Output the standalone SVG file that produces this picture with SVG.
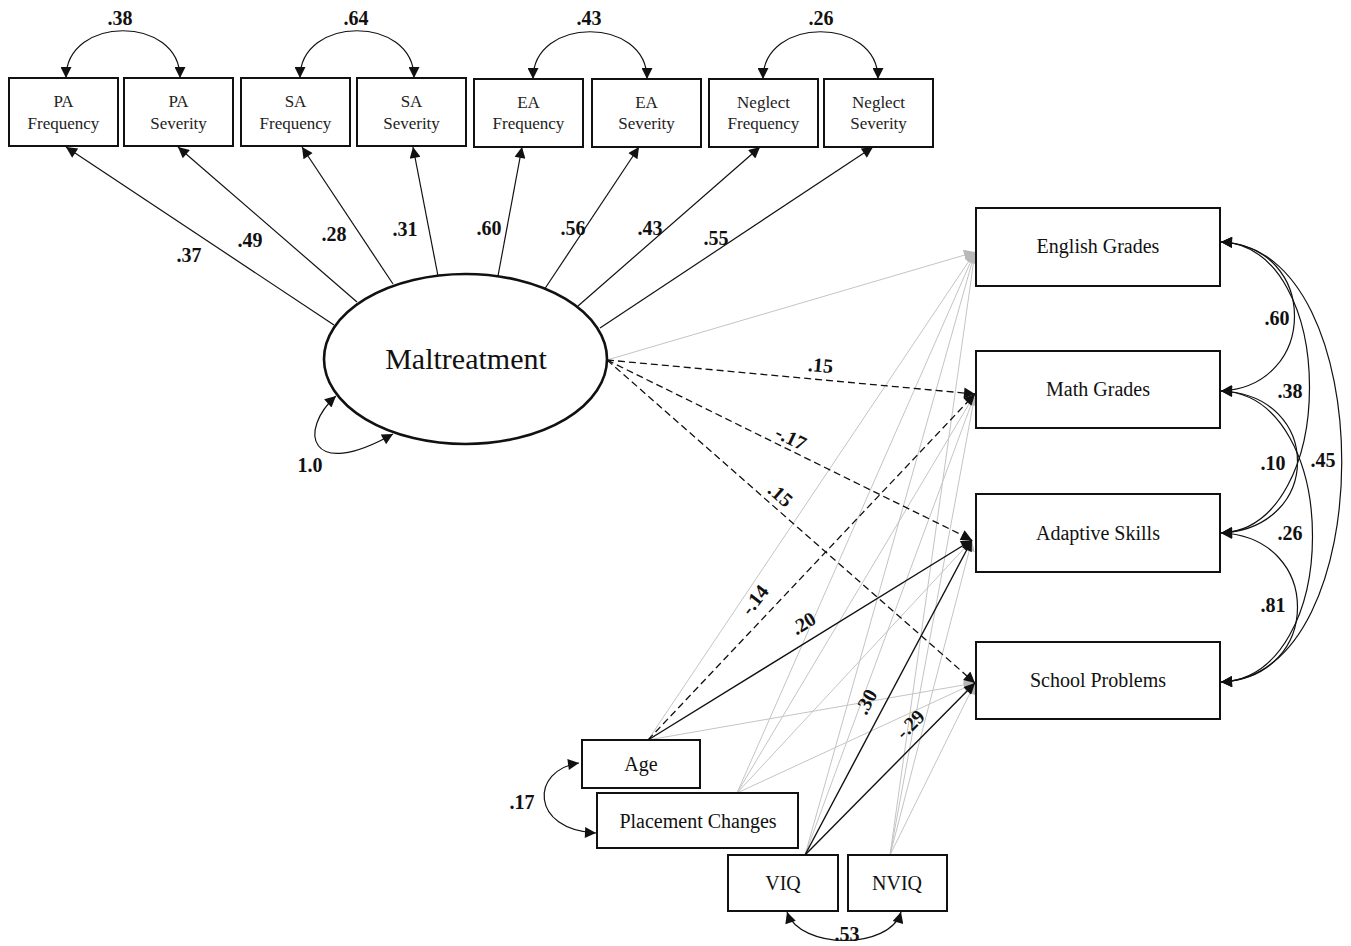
<svg xmlns="http://www.w3.org/2000/svg" width="1351" height="946" viewBox="0 0 1351 946">
<style>
.box{fill:#fff;stroke:#111;stroke-width:2}
.t16{font-family:"Liberation Serif",serif;font-size:17px;fill:#222;text-anchor:middle}
.t20{font-family:"Liberation Serif",serif;font-size:20px;fill:#111;text-anchor:middle}
.lab{font-family:"Liberation Serif",serif;font-size:20px;font-weight:bold;fill:#111;text-anchor:middle}
.ln{fill:none;stroke:#111;stroke-width:1.2}
.blk{fill:none;stroke:#111;stroke-width:1.4}
.dsh{fill:none;stroke:#111;stroke-width:1.3;stroke-dasharray:7 4}
.gry{fill:none;stroke:#c4c4c4;stroke-width:1}
</style>
<defs>
<marker id="ah" viewBox="0 0 10 10" refX="10" refY="5" markerUnits="userSpaceOnUse" markerWidth="14" markerHeight="11" orient="auto-start-reverse"><path d="M0,0 L10,5 L0,10 z" fill="#111"/></marker>
<marker id="ahg" viewBox="0 0 10 10" refX="10" refY="5" markerUnits="userSpaceOnUse" markerWidth="14" markerHeight="11" orient="auto-start-reverse"><path d="M0,0 L10,5 L0,10 z" fill="#b8b8b8"/></marker>
</defs>

<g id="connectors">
<g class="gry" marker-end="url(#ahg)">
<line x1="607" y1="360" x2="975" y2="252"/>
<line x1="648" y1="740" x2="975" y2="252"/>
<line x1="648" y1="740" x2="975" y2="683"/>
<line x1="737" y1="793" x2="975" y2="252"/>
<line x1="737" y1="793" x2="975" y2="394"/>
<line x1="737" y1="793" x2="972" y2="540"/>
<line x1="737" y1="793" x2="975" y2="683"/>
<line x1="805" y1="855" x2="975" y2="252"/>
<line x1="805" y1="855" x2="975" y2="394"/>
<line x1="890" y1="855" x2="975" y2="252"/>
<line x1="890" y1="855" x2="975" y2="394"/>
<line x1="890" y1="855" x2="972" y2="540"/>
<line x1="890" y1="855" x2="975" y2="683"/>
</g>
<g class="ln" marker-end="url(#ah)">
<line x1="334" y1="325" x2="66" y2="147"/>
<line x1="357" y1="302" x2="178" y2="147"/>
<line x1="393" y1="284" x2="302" y2="147"/>
<line x1="438" y1="276" x2="413" y2="147"/>
<line x1="498" y1="276" x2="522" y2="147"/>
<line x1="544" y1="290" x2="639" y2="147"/>
<line x1="578" y1="306" x2="760" y2="147"/>
<line x1="600" y1="328" x2="873" y2="147"/>
</g>
<g class="ln" marker-start="url(#ah)" marker-end="url(#ah)">
<path d="M66 78 C66 15,180 15,180 78"/>
<path d="M300 78 C300 15,414 15,414 78"/>
<path d="M533 79 C533 16,647 16,647 79"/>
<path d="M763 79 C763 16,878 16,878 79"/>
</g>
<path class="ln" marker-start="url(#ah)" marker-end="url(#ah)" d="M336 396 C298 430,308 482,393 434"/>
<g class="dsh" marker-end="url(#ah)">
<line x1="607" y1="360" x2="975" y2="394"/>
<line x1="607" y1="360" x2="972" y2="540"/>
<line x1="607" y1="360" x2="975" y2="683"/>
<line x1="648" y1="740" x2="975" y2="394"/>
</g>
<g class="blk" marker-end="url(#ah)">
<line x1="648" y1="740" x2="972" y2="540"/>
<line x1="805" y1="855" x2="972" y2="540"/>
<line x1="805" y1="855" x2="975" y2="683"/>
</g>
<g class="ln" marker-start="url(#ah)" marker-end="url(#ah)">
<path d="M1221 242 C1319 246,1319 386,1221 391"/>
<path d="M1221 242 C1339 246,1339 528,1221 533"/>
<path d="M1221 242 C1382 246,1382 677,1221 682"/>
<path d="M1221 391 C1323 395,1323 528,1221 533"/>
<path d="M1221 391 C1343 395,1343 677,1221 682"/>
<path d="M1221 533 C1323 537,1323 677,1221 682"/>
</g>
<path class="ln" marker-start="url(#ah)" marker-end="url(#ah)" d="M579 763 C530 770,530 830,596 833"/>
<path class="ln" marker-start="url(#ah)" marker-end="url(#ah)" d="M787 912 C800 950,890 950,901 912"/>

<g class="lab">
<text x="120" y="25">.38</text>
<text x="356" y="25">.64</text>
<text x="589" y="25">.43</text>
<text x="821" y="25">.26</text>
<text x="189" y="262">.37</text>
<text x="250" y="247">.49</text>
<text x="334" y="241">.28</text>
<text x="405" y="236">.31</text>
<text x="489" y="235">.60</text>
<text x="573" y="235">.56</text>
<text x="650" y="235">.43</text>
<text x="716" y="245">.55</text>
<text x="310" y="472">1.0</text>
<text x="1277" y="325">.60</text>
<text x="1290" y="398">.38</text>
<text x="1273" y="470">.10</text>
<text x="1323" y="467">.45</text>
<text x="1290" y="540">.26</text>
<text x="1273" y="612">.81</text>
<text x="522" y="809">.17</text>
<text x="847" y="941">.53</text>
<text transform="translate(820,372) rotate(5)">.15</text>
<text transform="translate(788,444) rotate(26)">-.17</text>
<text transform="translate(776,500) rotate(41)">.15</text>
<text transform="translate(760,604) rotate(-52)">-.14</text>
<text transform="translate(807,629) rotate(-32)">.20</text>
<text transform="translate(872,705) rotate(-62)">.30</text>
<text transform="translate(915,729) rotate(-45)">-.29</text>
</g>
</g>

<g id="pa-frequency"><rect class="box" x="9" y="78" width="109" height="68"/><text class="t16" x="63.5" y="107">PA</text><text class="t16" x="63.5" y="129">Frequency</text></g>
<g id="pa-severity"><rect class="box" x="124" y="78" width="109" height="68"/><text class="t16" x="178.5" y="107">PA</text><text class="t16" x="178.5" y="129">Severity</text></g>
<g id="sa-frequency"><rect class="box" x="241" y="78" width="109" height="68"/><text class="t16" x="295.5" y="107">SA</text><text class="t16" x="295.5" y="129">Frequency</text></g>
<g id="sa-severity"><rect class="box" x="357" y="78" width="109" height="68"/><text class="t16" x="411.5" y="107">SA</text><text class="t16" x="411.5" y="129">Severity</text></g>
<g id="ea-frequency"><rect class="box" x="474" y="79" width="109" height="68"/><text class="t16" x="528.5" y="108">EA</text><text class="t16" x="528.5" y="129">Frequency</text></g>
<g id="ea-severity"><rect class="box" x="592" y="79" width="109" height="68"/><text class="t16" x="646.5" y="108">EA</text><text class="t16" x="646.5" y="129">Severity</text></g>
<g id="neglect-frequency"><rect class="box" x="709" y="79" width="109" height="68"/><text class="t16" x="763.5" y="108">Neglect</text><text class="t16" x="763.5" y="129">Frequency</text></g>
<g id="neglect-severity"><rect class="box" x="824" y="79" width="109" height="68"/><text class="t16" x="878.5" y="108">Neglect</text><text class="t16" x="878.5" y="129">Severity</text></g>

<g id="maltreatment"><ellipse cx="465.5" cy="359" rx="141.5" ry="85" fill="#fff" stroke="#111" stroke-width="2.6"/><text x="466" y="369" font-family="Liberation Serif, serif" font-size="30" fill="#111" text-anchor="middle">Maltreatment</text></g>

<g id="english-grades"><rect class="box" x="976" y="208" width="244" height="78"/><text class="t20" x="1098" y="253">English Grades</text></g>
<g id="math-grades"><rect class="box" x="976" y="351" width="244" height="77"/><text class="t20" x="1098" y="396">Math Grades</text></g>
<g id="adaptive-skills"><rect class="box" x="976" y="494" width="244" height="78"/><text class="t20" x="1098" y="540">Adaptive Skills</text></g>
<g id="school-problems"><rect class="box" x="976" y="642" width="244" height="77"/><text class="t20" x="1098" y="687">School Problems</text></g>

<g id="age"><rect class="box" x="582" y="740" width="118" height="48"/><text class="t20" x="641" y="771">Age</text></g>
<g id="placement-changes"><rect class="box" x="597" y="793" width="201" height="55"/><text class="t20" x="698" y="828">Placement Changes</text></g>
<g id="viq"><rect class="box" x="728" y="855" width="110" height="56"/><text class="t20" x="783" y="890">VIQ</text></g>
<g id="nviq"><rect class="box" x="848" y="855" width="99" height="56"/><text class="t20" x="897" y="890">NVIQ</text></g>
</svg>
